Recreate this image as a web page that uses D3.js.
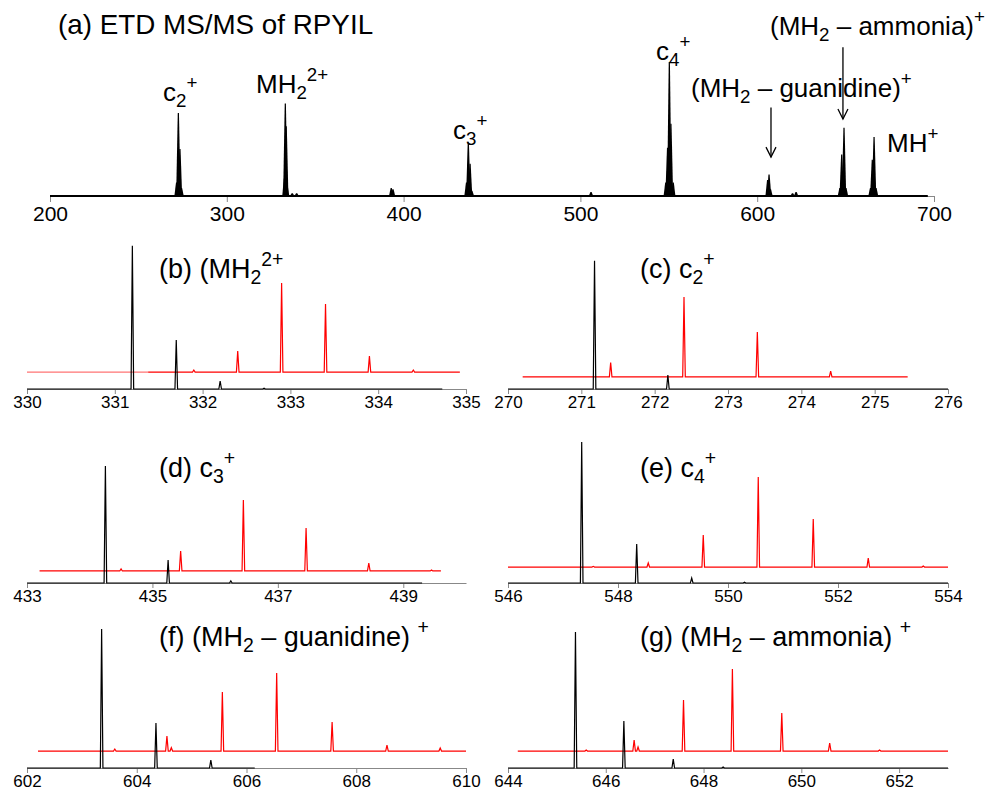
<!DOCTYPE html>
<html>
<head>
<meta charset="utf-8">
<script src="https://cdn.jsdelivr.net/npm/d3@7"></script>
<style>
body { margin: 0; background: #fff; }
svg { display: block; font-family: "Liberation Sans", Arial, Helvetica, sans-serif; }
</style>
</head>
<body>
<svg width="995" height="790"></svg>
<script>
// (a) overview spectrum: m/z and relative intensity (c4+ = 100)
var overviewMz  = [271.6, 272.6, 273.5, 274.4, 332.6, 333.1, 333.6, 334.1, 337, 339.5,
                   393.0, 394.0, 435.6, 436.6, 437.6, 438.6, 506, 548.3, 549.3, 550.3,
                   551.2, 552.5, 605.9, 606.7, 607.5, 620, 622, 646.8, 647.8, 649.1,
                   650.2, 664.1, 665.1, 666.1, 667.2];
var overviewInt = [10, 62, 35, 6, 13, 69, 52, 8, 2, 2,
                   6, 5, 10, 40, 24, 4, 3, 10, 36, 100,
                   54, 10, 12, 16, 5, 2, 3, 6, 31, 51,
                   6, 6, 27, 44, 6];
var overviewTicks = [200, 300, 400, 500, 600, 700];

// zoomed isotope clusters: [m/z, intensity]; red ones measured above their offset baseline
var bBlack = [[331.2, 98.8], [331.7, 33.8], [332.2, 5.5], [332.7, 0.5]];
var bRed   = [[331.9, 1.4], [332.4, 14.5], [332.9, 61.4], [333.4, 46.9], [333.9, 11], [334.4, 1.4]];
var cBlack = [[271.18, 88.5], [272.18, 9.7]];
var cRed   = [[271.4, 9.9], [272.4, 55.2], [273.4, 31], [274.4, 4.1]];
var dBlack = [[434.25, 80.7], [435.25, 15.9], [436.25, 1.4]];
var dRed   = [[434.5, 1.4], [435.45, 13.8], [436.45, 49], [437.45, 29.7], [438.45, 5.5], [439.45, 0.7]];
var eBlack = [[547.34, 97.2], [548.34, 26.9], [549.34, 3.4], [550.3, 0.5]];
var eRed   = [[547.55, 0.5], [548.55, 2.8], [549.55, 22.1], [550.55, 62.1], [551.55, 33.1], [552.55, 6.2], [553.55, 0.7]];
var fBlack = [[603.36, 95.9], [604.35, 31], [605.35, 5.5]];
var fRed   = [[603.6, 1.4], [604.55, 10.3], [604.63, 2.3], [605.56, 40.7], [606.55, 53.8], [607.56, 20], [608.56, 4.1], [609.53, 2.1]];
var gBlack = [[645.38, 93.8], [646.37, 32.4], [647.38, 6.2], [648.4, 0.7]];
var gRed   = [[645.6, 0.7], [646.58, 7.6], [646.66, 2.8], [647.59, 35.2], [648.59, 56.6], [649.6, 26.2], [650.58, 5.5], [651.6, 0.7]];

var redOffsets = [11.7, 8.3, 8.3, 11, 11.7, 11.7];
var panelDomains = [[330, 335], [270, 276], [433, 440], [546, 554], [602, 610], [644, 653]];
var panelTicks = [d3.range(330, 336), d3.range(270, 277), [433, 435, 437, 439],
                  [546, 548, 550, 552, 554], [602, 604, 606, 608, 610], [644, 646, 648, 650, 652]];
var blackEnds = [334.73, 276, 439.3, 554, 606.15, 653];
var redRanges = [[330, 334.93], [270.2, 275.45], [433.2, 439.6], [546, 554], [602.2, 610], [644.2, 653]];

var svg = d3.select("svg");
svg.append("rect").attr("width", 995).attr("height", 790).attr("fill", "#fff");

// text with sub/superscripts: list of [string, "sub"|"sup"|undefined]
function richText(sel, parts) {
  parts.forEach(function(p) {
    var t = sel.append("tspan").text(p[0]);
    if (p[1] == "sub") t.attr("font-size", "0.72em").attr("baseline-shift", "-0.32em");
    if (p[1] == "sup") t.attr("font-size", "0.72em").attr("baseline-shift", "0.62em");
  });
  return sel;
}

function styleAxis(g, size) {
  g.select(".domain").attr("stroke", "#888");
  g.selectAll(".tick line").attr("stroke", "#888");
  g.selectAll(".tick text").attr("fill", "#000").attr("font-size", size)
    .attr("font-family", "Liberation Sans, Arial, sans-serif");
}

// ---------- panel (a) ----------
var xa = d3.scaleLinear().domain([200, 700]).range([50, 934]);
var ya = d3.scaleLinear().domain([0, 100]).range([196, 62]);

var ga = svg.append("g");
ga.append("g").attr("transform", "translate(0," + ya(0) + ")")
  .call(d3.axisBottom(xa).tickValues(overviewTicks).tickFormat(d3.format("d"))
    .tickSize(6).tickPadding(4).tickSizeOuter(0))
  .call(styleAxis, 21);

ga.append("line")
  .attr("x1", xa(200)).attr("x2", xa(696.5))
  .attr("y1", ya(0)).attr("y2", ya(0))
  .attr("stroke", "#000").attr("stroke-width", 2.2);

ga.selectAll("path.peak").data(d3.zip(overviewMz, overviewInt)).enter().append("path")
  .attr("class", "peak")
  .attr("fill", "#000")
  .attr("d", function(d) {
    var x = xa(d[0]), y0 = ya(0), y = ya(d[1]);
    return "M" + (x - 2.2) + "," + y0 + "L" + (x - 0.6) + "," + y + "L" + (x + 0.6) + "," + y +
           "L" + (x + 2.2) + "," + y0 + "Z";
  });

richText(ga.append("text").attr("x", 58).attr("y", 34).attr("font-size", 27.8), [["(a) ETD MS/MS of RPYIL"]]);

var peakLabels = [
  {x: 163, y: 101, parts: [["c"], ["2", "sub"], ["+", "sup"]]},
  {x: 256, y: 93, parts: [["MH"], ["2", "sub"], ["2+", "sup"]]},
  {x: 453, y: 139, parts: [["c"], ["3", "sub"], ["+", "sup"]]},
  {x: 656, y: 60, parts: [["c"], ["4", "sub"], ["+", "sup"]]},
  {x: 691, y: 97, parts: [["(MH"], ["2", "sub"], [" \u2013 guanidine)"], ["+", "sup"]]},
  {x: 770, y: 35, parts: [["(MH"], ["2", "sub"], [" \u2013 ammonia)"], ["+", "sup"]]},
  {x: 887, y: 152, parts: [["MH"], ["+", "sup"]]}
];
peakLabels.forEach(function(l) {
  richText(ga.append("text").attr("x", l.x).attr("y", l.y).attr("font-size", 26), l.parts);
});

// arrows pointing at the neutral-loss peaks
var arrows = [[607.8, 66, 29], [648.5, 111, 57.5]];
arrows.forEach(function(a) {
  var x = xa(a[0]), y1 = ya(a[1]), y2 = ya(a[2]);
  ga.append("line").attr("x1", x).attr("x2", x).attr("y1", y1).attr("y2", y2)
    .attr("stroke", "#000").attr("stroke-width", 1.3);
  ga.append("path").attr("d", "M" + (x - 5) + "," + (y2 - 10) + "L" + x + "," + y2 + "L" + (x + 5) + "," + (y2 - 10))
    .attr("fill", "none").attr("stroke", "#000").attr("stroke-width", 1.3);
});

// ---------- panels (b)-(g) ----------
var panelLabels = [
  [["(b) (MH"], ["2", "sub"], ["2+", "sup"]],
  [["(c) c"], ["2", "sub"], ["+", "sup"]],
  [["(d) c"], ["3", "sub"], ["+", "sup"]],
  [["(e) c"], ["4", "sub"], ["+", "sup"]],
  [["(f) (MH"], ["2", "sub"], [" \u2013 guanidine) "], ["+", "sup"]],
  [["(g) (MH"], ["2", "sub"], [" \u2013 ammonia) "], ["+", "sup"]]
];
var blacks = [bBlack, cBlack, dBlack, eBlack, fBlack, gBlack];
var reds = [bRed, cRed, dRed, eRed, fRed, gRed];
var rowAxisY = [389, 583, 768];
var rowLabelY = [278, 477, 646];
var colX = [[27, 466], [508, 948]];
var colLabelX = [159, 640];

function tracePath(x, y, range, base, peaks) {
  var pts = [[range[0], base]];
  peaks.forEach(function(p) {
    if (p[0] < range[0] || p[0] > range[1]) return;
    var dw = x.invert(x(p[0]) + 1.3) - p[0];
    pts.push([p[0] - dw, base], [p[0], base + p[1]], [p[0] + dw, base]);
  });
  pts.push([range[1], base]);
  return d3.line().x(function(d) { return x(d[0]); }).y(function(d) { return y(d[1]); })(pts);
}

panelDomains.forEach(function(dom, i) {
  var row = Math.floor(i / 2), col = i % 2;
  var x = d3.scaleLinear().domain(dom).range(colX[col]);
  var y = d3.scaleLinear().domain([0, 100]).range([rowAxisY[row], rowAxisY[row] - 145]);
  var g = svg.append("g");

  g.append("g").attr("transform", "translate(0," + y(0) + ")")
    .call(d3.axisBottom(x).tickValues(panelTicks[i]).tickFormat(d3.format("d"))
      .tickSize(5).tickPadding(2).tickSizeOuter(0))
    .call(styleAxis, 17);

  var off = redOffsets[i];
  if (i == 0) {
    // faint leading part of the red trace in (b)
    g.append("path").attr("d", tracePath(x, y, [redRanges[i][0], 331.38], off, []))
      .attr("fill", "none").attr("stroke", "#f00").attr("stroke-opacity", 0.55).attr("stroke-width", 1.2);
    g.append("path").attr("d", tracePath(x, y, [331.38, redRanges[i][1]], off, reds[i]))
      .attr("fill", "none").attr("stroke", "#f00").attr("stroke-width", 1.2);
  } else {
    g.append("path").attr("d", tracePath(x, y, redRanges[i], off, reds[i]))
      .attr("fill", "none").attr("stroke", "#f00").attr("stroke-width", 1.2);
  }

  g.append("path").attr("d", tracePath(x, y, [dom[0], blackEnds[i]], 0, blacks[i]))
    .attr("fill", "none").attr("stroke", "#000").attr("stroke-width", 1.2);

  richText(g.append("text").attr("x", colLabelX[col]).attr("y", rowLabelY[row]).attr("font-size", 27),
    panelLabels[i]);
});
</script>
</body>
</html>
